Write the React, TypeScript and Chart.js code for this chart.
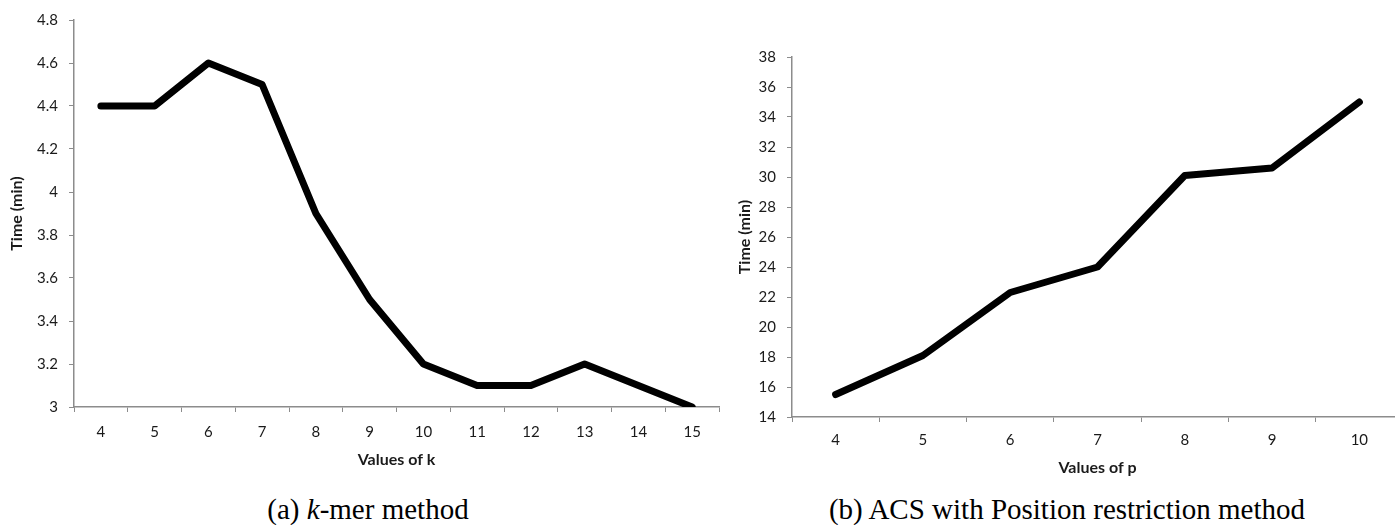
import React, { useEffect, useRef } from "react";
import { Chart, registerables } from "chart.js";

Chart.register(...registerables);

// ---- data ----
const kValues = ["4", "5", "6", "7", "8", "9", "10", "11", "12", "13", "14", "15"];
const kTimes = [4.4, 4.4, 4.6, 4.5, 3.9, 3.5, 3.2, 3.1, 3.1, 3.2, 3.1, 3.0];
const pValues = ["4", "5", "6", "7", "8", "9", "10"];
const pTimes = [15.5, 18.1, 22.3, 24.0, 30.1, 30.6, 35.0];
const kAxisRange = { min: 3, max: 4.8, step: 0.2 };
const pAxisRange = { min: 14, max: 38, step: 2 };
const kAxisTitle = "Values of k";
const pAxisTitle = "Values of p";
const yAxisTitle = "Time (min)";

const FONT = "Lato";
const AXIS_COLOR = "#8c8c8c";
const TEXT_COLOR = "#1a1a1a";
const TICK_SIZE = 15;
const TITLE_SIZE = 16;

type Spec = {
  labels: string[];
  values: number[];
  range: { min: number; max: number; step: number };
  xTitle: string;
  width: number;
  height: number;
  pad: { top: number; right: number };
  yWidth: number;
  xHeight: number;
  yTickPad: number;
  xTickPad: number;
  yTitlePad: number;
  xTitlePad: number;
};

function LineChart({ spec }: { spec: Spec }) {
  const ref = useRef<HTMLCanvasElement | null>(null);
  useEffect(() => {
    if (!ref.current) return;
    const chart = new Chart(ref.current, {
      type: "line",
      data: {
        labels: spec.labels,
        datasets: [
          {
            data: spec.values,
            borderColor: "#000",
            borderWidth: 7,
            borderCapStyle: "round",
            borderJoinStyle: "round",
            pointRadius: 0,
            fill: false,
            tension: 0,
          },
        ],
      },
      options: {
        animation: false,
        responsive: false,
        maintainAspectRatio: false,
        devicePixelRatio: 1,
        layout: { padding: { top: spec.pad.top, right: spec.pad.right, left: 0, bottom: 0 } },
        plugins: { legend: { display: false }, tooltip: { enabled: false } },
        scales: {
          x: {
            type: "category",
            offset: true,
            grid: {
              display: true,
              offset: true,
              drawOnChartArea: false,
              drawTicks: true,
              tickLength: 5,
              color: AXIS_COLOR,
            },
            border: { display: true, color: AXIS_COLOR, width: 1.5 },
            ticks: {
              color: TEXT_COLOR,
              font: { family: FONT, size: TICK_SIZE },
              padding: spec.xTickPad,
              maxRotation: 0,
              autoSkip: false,
            },
            title: {
              display: true,
              text: spec.xTitle,
              color: TEXT_COLOR,
              font: { family: FONT, size: TITLE_SIZE, weight: "bold" },
              padding: { top: 0, bottom: spec.xTitlePad },
            },
            afterFit: (s: any) => {
              s.height = spec.xHeight;
            },
          },
          y: {
            type: "linear",
            min: spec.range.min,
            max: spec.range.max,
            grid: {
              display: true,
              drawOnChartArea: false,
              drawTicks: true,
              tickLength: 5,
              color: AXIS_COLOR,
            },
            border: { display: true, color: AXIS_COLOR, width: 1.5 },
            ticks: {
              stepSize: spec.range.step,
              color: TEXT_COLOR,
              font: { family: FONT, size: TICK_SIZE },
              padding: spec.yTickPad,
              callback: (v: any) => String(Math.round(Number(v) * 100) / 100),
            },
            title: {
              display: true,
              text: yAxisTitle,
              color: TEXT_COLOR,
              font: { family: FONT, size: TITLE_SIZE, weight: "bold" },
              padding: { top: spec.yTitlePad, bottom: 0 },
            },
            afterFit: (s: any) => {
              s.width = spec.yWidth;
            },
          },
        },
      },
    });
    return () => chart.destroy();
  }, [spec]);
  return (
    <canvas
      ref={ref}
      width={spec.width}
      height={spec.height}
      style={{ width: spec.width, height: spec.height, display: "block" }}
    />
  );
}

const specA: Spec = {
  labels: kValues,
  values: kTimes,
  range: kAxisRange,
  xTitle: kAxisTitle,
  width: 730,
  height: 470,
  pad: { top: 17, right: 11 },
  yWidth: 74,
  xHeight: 63,
  yTickPad: 11,
  xTickPad: 11,
  yTitlePad: 7,
  xTitlePad: 1,
};

const specB: Spec = {
  labels: pValues,
  values: pTimes,
  range: pAxisRange,
  xTitle: pAxisTitle,
  width: 690,
  height: 480,
  pad: { top: 57, right: 17 },
  yWidth: 62,
  xHeight: 63,
  yTickPad: 11,
  xTickPad: 9,
  yTitlePad: 5,
  xTitlePad: 3,
};

const captionStyle: React.CSSProperties = {
  position: "absolute",
  top: 495,
  fontFamily: "'Liberation Serif', 'Times New Roman', serif",
  fontSize: 29,
  lineHeight: "29px",
  textAlign: "center",
  whiteSpace: "nowrap",
  color: "#000",
};

export default function App() {
  return (
    <div
      style={{
        position: "absolute",
        left: 0,
        top: 0,
        width: 1395,
        height: 525,
        overflow: "hidden",
        background: "#fff",
      }}
    >
      <div style={{ position: "absolute", left: 0, top: 0 }}>
        <LineChart spec={specA} />
      </div>
      <div style={{ position: "absolute", left: 730, top: 0 }}>
        <LineChart spec={specB} />
      </div>
      <div style={{ ...captionStyle, left: 0, width: 736 }}>
        (a) <i>k</i>-mer method
      </div>
      <div style={{ ...captionStyle, left: 739, width: 656 }}>
        (b) ACS with Position restriction method
      </div>
    </div>
  );
}
